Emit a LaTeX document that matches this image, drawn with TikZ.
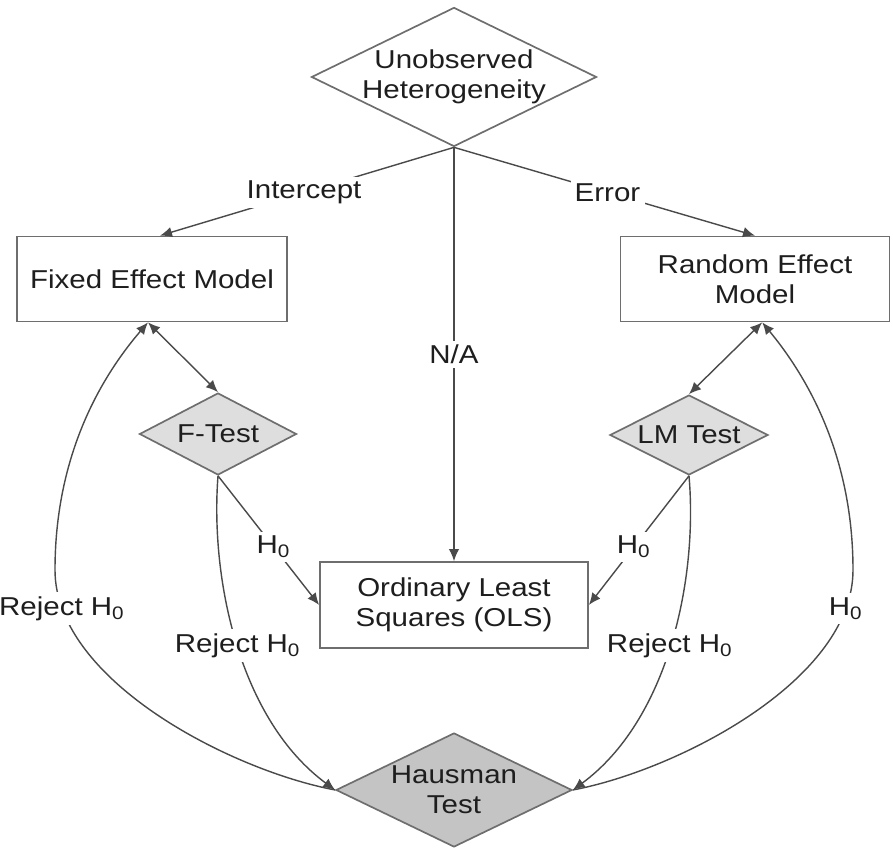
\documentclass[tikz,border=0pt]{standalone}
\usepackage{fontspec}
\setmainfont{Liberation Sans}[FakeStretch=1.14]
\usetikzlibrary{shapes.geometric, arrows.meta}
\definecolor{hetline}{HTML}{4A4A4A}
\definecolor{hetedge}{HTML}{6E6E6E}
\definecolor{hettest}{HTML}{DEDEDE}
\definecolor{hethaus}{HTML}{C4C4C4}
\definecolor{hettext}{HTML}{1E1E1E}
\newcommand{\hetfont}{\fontsize{9.2pt}{10.6pt}\selectfont}

\begin{document}
\begin{tikzpicture}[x=0.0125cm, y=-0.0125cm, font=\hetfont, text=hettext,
  box/.style={draw=hetedge, line width=0.6pt, fill=white, inner sep=2pt, align=center},
  decision/.style={diamond, draw=hetedge, line width=0.6pt, aspect=2, inner sep=-1pt, align=center},
  link/.style={draw=hetline, line width=0.5pt, -{Latex[length=1.5mm, width=1.3mm]}},
  twoway/.style={link, {Latex[length=1.5mm, width=1.3mm]}-{Latex[length=1.5mm, width=1.3mm]}},
  lbl/.style={fill=white, inner sep=1.5pt}]
  \useasboundingbox (0,0) rectangle (893,849);
  \node[decision, minimum width=3.5625cm, minimum height=1.7375cm] (unobs) at (454,77) {Unobserved\\Heterogeneity};
  \node[box, minimum width=3.375cm, minimum height=1.0625cm] (fixed) at (152,279) {Fixed Effect Model};
  \node[box, minimum width=3.3625cm, minimum height=1.0625cm] (random) at (755,279) {Random Effect\\Model};
  \node[decision, fill=hettest, minimum width=1.9625cm, minimum height=1.025cm] (ftest) at (218,434) {F-Test};
  \node[decision, fill=hettest, minimum width=1.975cm, minimum height=1cm] (lmtest) at (689,435) {LM Test};
  \node[box, minimum width=3.35cm, minimum height=1.075cm] (ols) at (454,605) {Ordinary Least\\Squares (OLS)};
  \node[decision, fill=hethaus, minimum width=2.95cm, minimum height=1.425cm] (hausman) at (454,790) {Hausman\\Test};

  \draw[link] (unobs.south) -- node[lbl, pos=0.51]{Intercept} ([xshift=0.1cm]fixed.north);
  \draw[link] (unobs.south) -- node[lbl, pos=0.51]{Error} (random.north);
  \draw[link] (unobs.south) -- node[lbl]{N/A} (ols.north);
  \draw[twoway] ([xshift=-0.05cm]fixed.south) -- (ftest.north);
  \draw[twoway] ([xshift=0.09cm]random.south) -- (lmtest.north);
  \draw[link] (ftest.south) -- node[lbl, pos=0.55]{H\textsubscript{0}} (ols.west);
  \draw[link] (lmtest.south) -- node[lbl, pos=0.55]{H\textsubscript{0}} (ols.east);
  \draw[link] (ftest.south) .. controls (210,580) and (240,720) .. node[lbl]{Reject H\textsubscript{0}} (hausman.west);
  \draw[link] (lmtest.south) .. controls (698,580) and (668,720) .. node[lbl]{Reject H\textsubscript{0}} (hausman.east);
  % Hausman back to the models
  \draw[link] (hausman.west) .. controls (230,770) and (55,680) .. node[lbl, pos=0.88]{Reject H\textsubscript{0}} (55,570)
    .. controls (55,470) and (90,390) .. ([xshift=-0.05cm]fixed.south);
  \draw[link] (hausman.east) .. controls (678,770) and (853,680) .. node[lbl, pos=0.88]{H\textsubscript{0}} (853,570)
    .. controls (853,470) and (818,390) .. ([xshift=0.09cm]random.south);
\end{tikzpicture}
\end{document}
